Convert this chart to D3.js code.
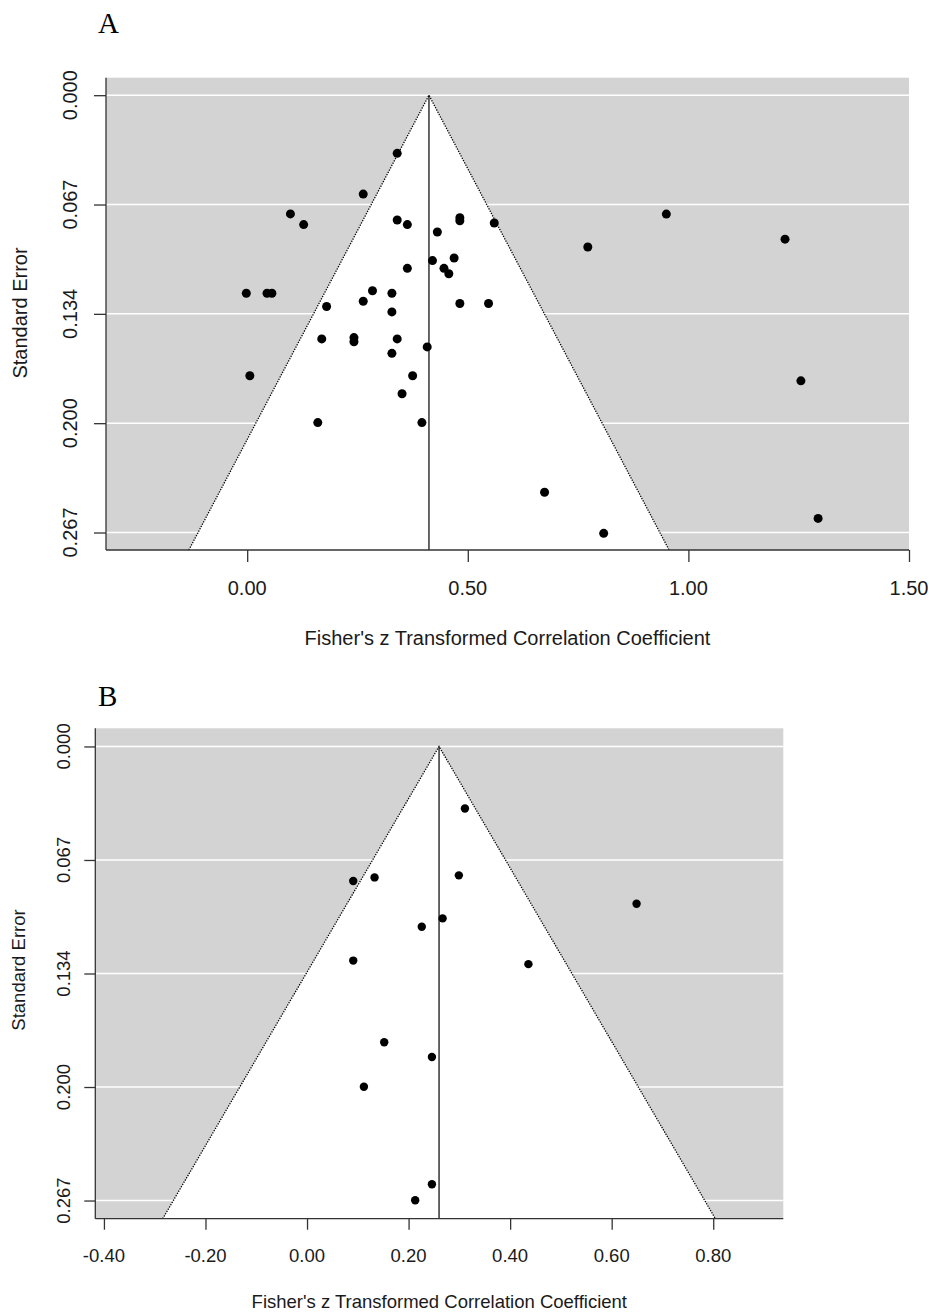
<!DOCTYPE html>
<html lang='en'>
<head>
<meta charset='utf-8'>
<title>Funnel plots A and B</title>
<script type='text/javascript' src='https://cdn.jsdelivr.net/npm/d3@7/dist/d3.min.js'></script>
<style>
body { margin: 0; background: #fff; }
text { font-family: 'Liberation Sans', Arial, sans-serif; fill: #1a1a1a; }
.panel-letter { font-family: 'Liberation Serif', 'Times New Roman', serif; fill: #000; }
</style>
</head>
<body>
<script type='text/javascript'>
// panel A: Fisher's z and standard error of each study
var zA  = [0.340, 0.263, 0.098, 0.128, 0.340, 0.363, 0.482, 0.482, 0.560, 0.431,
           0.420, 0.469, 0.446, 0.457, 0.363, -0.002, 0.045, 0.056, 0.284, 0.328,
           0.263, 0.180, 0.482, 0.547, 0.328, 0.169, 0.242, 0.242, 0.340, 0.328,
           0.408, 0.006, 0.375, 0.351, 0.160, 0.396, 0.950, 0.772, 1.219, 1.255,
           0.674, 0.808, 1.294]
var seA = [0.0355, 0.0604, 0.0725, 0.0790, 0.0762, 0.0790, 0.0748, 0.0767, 0.0780, 0.0835,
           0.1010, 0.0994, 0.1057, 0.1090, 0.1057, 0.1209, 0.1209, 0.1209, 0.1194, 0.1209,
           0.1258, 0.1290, 0.1272, 0.1272, 0.1323, 0.1488, 0.1480, 0.1505, 0.1488, 0.1576,
           0.1537, 0.1713, 0.1713, 0.1823, 0.1999, 0.1999, 0.0726, 0.0927, 0.0879, 0.1744,
           0.2424, 0.2675, 0.2584]
var estA = 0.412
var xTicksA = [0, 0.5, 1.0, 1.5]
var xTickLabelsA = ['0.00', '0.50', '1.00', '1.50']
var xDomainA = [-0.32, 1.50]

// panel B
var zB  = [0.311, 0.091, 0.133, 0.299, 0.649, 0.267, 0.226, 0.091, 0.436, 0.152,
           0.246, 0.112, 0.246, 0.213]
var seB = [0.0365, 0.0791, 0.0770, 0.0758, 0.0925, 0.1011, 0.1060, 0.1259, 0.1280, 0.1739,
           0.1826, 0.2001, 0.2574, 0.2668]
var estB = 0.260
var xTicksB = [-0.4, -0.2, 0, 0.2, 0.4, 0.6, 0.8]
var xTickLabelsB = ['-0.40', '-0.20', '0.00', '0.20', '0.40', '0.60', '0.80']
var xDomainB = [-0.417, 0.938]

// shared y axis (standard error)
var seMax = 0.267
var yTicks = [0, 1, 2, 3, 4].map(i => seMax * i / 4)
var yTickLabels = ['0.000', '0.067', '0.134', '0.200', '0.267']

var xTitle = "Fisher's z Transformed Correlation Coefficient"
var yTitle = 'Standard Error'

var svg = d3.select('body').append('svg').attr('width', 929).attr('height', 1313)

function funnel(p) {
	var g = svg.append('g')
	var x = d3.scaleLinear().domain(p.xDomain).range([p.left, p.right])
	var y = d3.scaleLinear().domain([-0.04 * seMax, 1.04 * seMax]).range([p.top, p.bottom])
	var yBot = y.domain()[1]

	var clipId = 'clip' + p.letter
	g.append('clipPath').attr('id', clipId).append('rect')
		.attr('x', p.left).attr('y', p.top).attr('width', p.right - p.left).attr('height', p.bottom - p.top)

	g.append('rect')
		.attr('x', p.left).attr('y', p.top).attr('width', p.right - p.left).attr('height', p.bottom - p.top)
		.attr('fill', '#d3d3d3')

	g.selectAll('line.grid').data(yTicks).enter().append('line').attr('class', 'grid')
		.attr('x1', p.left).attr('x2', p.right)
		.attr('y1', d => y(d)).attr('y2', d => y(d))
		.attr('stroke', '#fff').attr('stroke-width', 1.5)

	var tri = [[p.est - 1.96 * yBot, yBot], [p.est, 0], [p.est + 1.96 * yBot, yBot]]
	var cg = g.append('g').attr('clip-path', 'url(#' + clipId + ')')
	cg.append('path')
		.attr('d', d3.line().x(d => x(d[0])).y(d => y(d[1]))(tri) + 'Z')
		.attr('fill', '#fff')
	cg.append('path')
		.attr('d', d3.line().x(d => x(d[0])).y(d => y(d[1]))(tri))
		.attr('fill', 'none').attr('stroke', '#000').attr('stroke-width', 1.3)
		.attr('stroke-dasharray', '1.3,1.3')
	cg.append('line')
		.attr('x1', x(p.est)).attr('x2', x(p.est))
		.attr('y1', y(0)).attr('y2', p.bottom)
		.attr('stroke', '#000').attr('stroke-width', 1.2)

	g.selectAll('circle').data(d3.zip(p.z, p.se)).enter().append('circle')
		.attr('cx', d => x(d[0]))
		.attr('cy', d => y(d[1]))
		.attr('r', p.r)
		.attr('fill', '#000')

	// axes
	var yAxis = g.append('g').attr('transform', 'translate(' + p.left + ',0)')
		.call(d3.axisLeft(y).tickValues(yTicks).tickSize(p.tick).tickFormat(''))
	yAxis.select('.domain').attr('d', 'M0,' + p.top + 'V' + p.bottom)
	var xAxis = g.append('g').attr('transform', 'translate(0,' + p.bottom + ')')
		.call(d3.axisBottom(x).tickValues(p.xTicks).tickSize(p.tick).tickFormat(''))
	xAxis.select('.domain').attr('d', 'M' + p.left + ',0H' + p.right)
	g.selectAll('.domain, .tick line').attr('stroke', '#333').attr('stroke-width', 1.3)

	g.selectAll('text.ylab').data(yTicks).enter().append('text').attr('class', 'ylab')
		.attr('transform', (d, i) => 'translate(' + p.yLabX + ',' + y(d) + ') rotate(-90)')
		.attr('text-anchor', 'middle').attr('font-size', p.fs)
		.text((d, i) => yTickLabels[i])

	g.selectAll('text.xlab').data(p.xTicks).enter().append('text').attr('class', 'xlab')
		.attr('x', d => x(d)).attr('y', p.xLabY)
		.attr('text-anchor', 'middle').attr('font-size', p.fs)
		.text((d, i) => p.xLabels[i])

	g.append('text')
		.attr('x', (p.left + p.right) / 2).attr('y', p.xTitleY)
		.attr('text-anchor', 'middle').attr('font-size', p.fs)
		.text(xTitle)
	g.append('text')
		.attr('transform', 'translate(' + p.yTitleX + ',' + p.yTitleY + ') rotate(-90)')
		.attr('text-anchor', 'middle').attr('font-size', p.fs)
		.text(yTitle)

	g.append('text').attr('class', 'panel-letter')
		.attr('x', 98).attr('y', p.letterY)
		.attr('font-size', 29)
		.text(p.letter)
}

funnel({letter: 'A', letterY: 33, left: 106, right: 909, top: 77.7, bottom: 550,
	xDomain: xDomainA, est: estA, z: zA, se: seA, xTicks: xTicksA, xLabels: xTickLabelsA,
	r: 4.5, tick: 12, fs: 20, yLabX: 77, xLabY: 595, xTitleY: 645, yTitleX: 27, yTitleY: 313})

funnel({letter: 'B', letterY: 706, left: 95.3, right: 783.3, top: 728.3, bottom: 1218.7,
	xDomain: xDomainB, est: estB, z: zB, se: seB, xTicks: xTicksB, xLabels: xTickLabelsB,
	r: 4.2, tick: 11, fs: 18.5, yLabX: 70, xLabY: 1262, xTitleY: 1308, yTitleX: 25, yTitleY: 970})
</script>
</body>
</html>
